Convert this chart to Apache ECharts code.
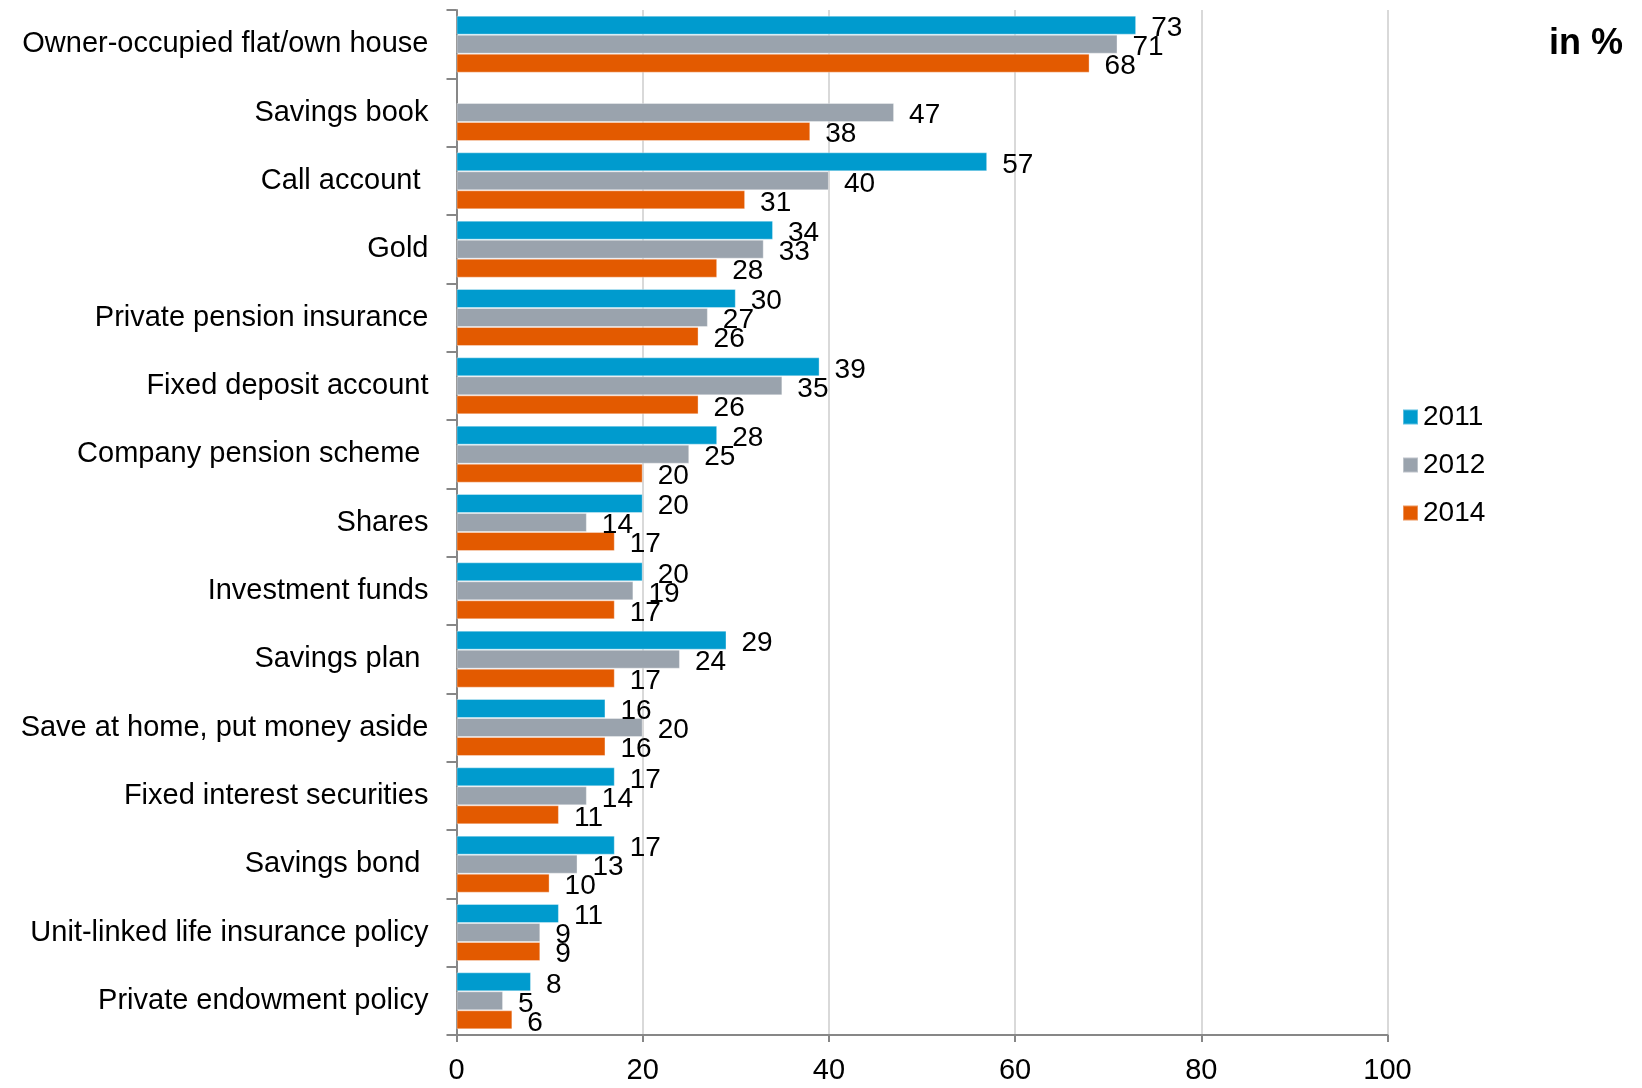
<!DOCTYPE html>
<html>
<head>
<meta charset="utf-8">
<script src="https://cdn.jsdelivr.net/npm/echarts@6/dist/echarts.min.js"></script>
<style>
html,body{margin:0;padding:0;background:#fff;}
#chart{width:1642px;height:1088px;}
</style>
</head>
<body>
<div id="chart"></div>
<script>
const categories = [
  "Owner-occupied flat/own house",
  "Savings book",
  "Call account ",
  "Gold",
  "Private pension insurance",
  "Fixed deposit account",
  "Company pension scheme ",
  "Shares",
  "Investment funds",
  "Savings plan ",
  "Save at home, put money aside",
  "Fixed interest securities",
  "Savings bond ",
  "Unit-linked life insurance policy",
  "Private endowment policy"
];
const seriesNames = ["2011", "2012", "2014"];
const values2011 = [73, null, 57, 34, 30, 39, 28, 20, 20, 29, 16, 17, 17, 11, 8];
const values2012 = [71, 47, 40, 33, 27, 35, 25, 14, 19, 24, 20, 14, 13, 9, 5];
const values2014 = [68, 38, 31, 28, 26, 26, 20, 17, 17, 17, 16, 11, 10, 9, 6];
const xTicks = [0, 20, 40, 60, 80, 100];
const unitLabel = "in %";

const FONT = '"Liberation Sans", Arial, Helvetica, sans-serif';
const colors = ['#009BCE', '#9AA3AD', '#E35A00'];
const allValues = [values2011, values2012, values2014];

const chart = echarts.init(document.getElementById('chart'), null, {renderer: 'canvas'});

const series = seriesNames.map((name, i) => ({
  name: name,
  type: 'bar',
  data: allValues[i],
  barGap: '0%',
  barCategoryGap: '16.6%',
  itemStyle: {color: colors[i], borderColor: 'rgba(255,255,255,0.35)', borderWidth: 1},
  label: {
    show: true,
    position: 'right',
    distance: 15,
    offset: [0, 3],
    color: '#000',
    fontFamily: FONT,
    fontSize: 28
  },
  emphasis: {disabled: true}
}));

chart.setOption({
  animation: false,
  color: colors,
  grid: {left: 456.5, right: 254.5, top: 10, bottom: 53, containLabel: false},
  title: {
    text: unitLabel,
    right: 14,
    top: 21,
    textStyle: {fontFamily: FONT, fontSize: 36, fontWeight: 'bold', color: '#000'}
  },
  legend: {
    orient: 'vertical',
    left: 1397,
    top: 397,
    itemWidth: 15,
    itemHeight: 15,
    itemGap: 18,
    icon: 'rect',
    data: seriesNames,
    textStyle: {fontFamily: FONT, fontSize: 28, lineHeight: 30, color: '#000'}
  },
  xAxis: {
    type: 'value',
    min: xTicks[0],
    max: xTicks[xTicks.length - 1],
    interval: xTicks[1] - xTicks[0],
    axisLine: {show: true, lineStyle: {color: '#878787', width: 2}},
    axisTick: {show: true, length: 7, lineStyle: {color: '#878787', width: 2}},
    axisLabel: {fontFamily: FONT, fontSize: 29, color: '#000', margin: 21},
    splitLine: {show: true, lineStyle: {color: '#D9D9D9', width: 2}}
  },
  yAxis: {
    type: 'category',
    inverse: true,
    data: categories,
    axisLine: {show: true, lineStyle: {color: '#878787', width: 2}},
    axisTick: {show: true, length: 10, lineStyle: {color: '#878787', width: 2}},
    axisLabel: {fontFamily: FONT, fontSize: 29, color: '#000', margin: 28}
  },
  series: series
});
</script>
</body>
</html>
